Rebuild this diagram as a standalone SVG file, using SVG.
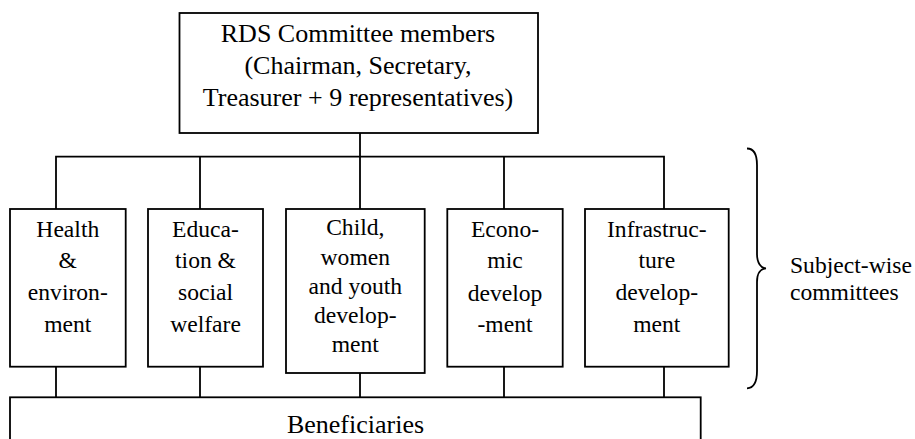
<svg xmlns="http://www.w3.org/2000/svg" width="915" height="439" viewBox="0 0 915 439">
  <style>
    .box { fill: #fff; stroke: #000; stroke-width: 1.8; }
    .wire { fill: none; stroke: #000; stroke-width: 1.8; }
    text { font-family: 'Liberation Serif', 'DejaVu Serif', serif; fill: #000; text-anchor: middle; }
    .big { font-size: 26px; }
    .small { font-size: 23.6px; }
    .note { text-anchor: start; }
  </style>

  <rect width="915" height="439" fill="#fff"/>

  <!-- connectors -->
  <g id="connectors">
    <path class="wire" d="M360,133 V156.7 M56,209 V156.7 H664 V209 M200,156.7 V209 M360,156.7 V209 M504,156.7 V209"/>
    <path class="wire" d="M56,366.7 V397.3 M200,366.7 V397.3 M360,373 V397.3 M504,366.7 V397.3 M664,366.7 V397.3"/>
  </g>

  <g font-family="Liberation Serif, serif">
  <!-- top committee -->
  <g id="rds-committee">
    <rect class="box" x="179.5" y="13" width="358.5" height="120"/>
    <text class="big" x="358" y="42">RDS Committee members</text>
    <text class="big" x="358" y="74">(Chairman, Secretary,</text>
    <text class="big" x="358" y="106">Treasurer + 9 representatives)</text>
  </g>

  <!-- subject-wise committees -->
  <g id="health">
    <rect class="box" x="10" y="209" width="115.7" height="157.7"/>
    <text class="small"><tspan x="67.8" y="236.7">Health</tspan><tspan x="67.8" y="268.3">&amp;</tspan><tspan x="67.8" y="300">environ-</tspan><tspan x="67.8" y="331.7">ment</tspan></text>
  </g>

  <g id="education">
    <rect class="box" x="148" y="209" width="115" height="157.7"/>
    <text class="small"><tspan x="205.5" y="236.7">Educa-</tspan><tspan x="205.5" y="268.3">tion &amp;</tspan><tspan x="205.5" y="300">social</tspan><tspan x="205.5" y="331.7">welfare</tspan></text>
  </g>

  <g id="child-women-youth">
    <rect class="box" x="286" y="209" width="138.7" height="164"/>
    <text class="small"><tspan x="355.3" y="235">Child,</tspan><tspan x="355.3" y="264.5">women</tspan><tspan x="355.3" y="293.5">and youth</tspan><tspan x="355.3" y="322.5">develop-</tspan><tspan x="355.3" y="351.7">ment</tspan></text>
  </g>

  <g id="economic">
    <rect class="box" x="447.3" y="209" width="115.4" height="157.7"/>
    <text class="small"><tspan x="505" y="236.7">Econo-</tspan><tspan x="505" y="268.3">mic</tspan><tspan x="505" y="300.5">develop</tspan><tspan x="505" y="331.7">-ment</tspan></text>
  </g>

  <g id="infrastructure">
    <rect class="box" x="585" y="209" width="143.7" height="157.7"/>
    <text class="small"><tspan x="656.8" y="236.7">Infrastruc-</tspan><tspan x="656.8" y="268.3">ture</tspan><tspan x="656.8" y="300">develop-</tspan><tspan x="656.8" y="331.7">ment</tspan></text>
  </g>

  <!-- beneficiaries (runs past the lower edge) -->
  <g id="beneficiaries">
    <rect class="box" x="10" y="397.3" width="690.7" height="80"/>
    <text class="big" x="355.5" y="433">Beneficiaries</text>
  </g>

  <!-- brace grouping the subject-wise committees -->
  <g id="subject-wise-label">
    <path class="wire" stroke-width="2" d="M747,148.5 C754,148.5 757,154 757,165 L757,254 C757,263 761,268 766,268.3 C761,268.6 757,273 757,282 L757,371 C757,382 754,388 747,388.3"/>
    <text class="small note" x="790" y="273.3">Subject-wise</text>
    <text class="small note" x="790" y="300">committees</text>
  </g>
  </g>
</svg>
